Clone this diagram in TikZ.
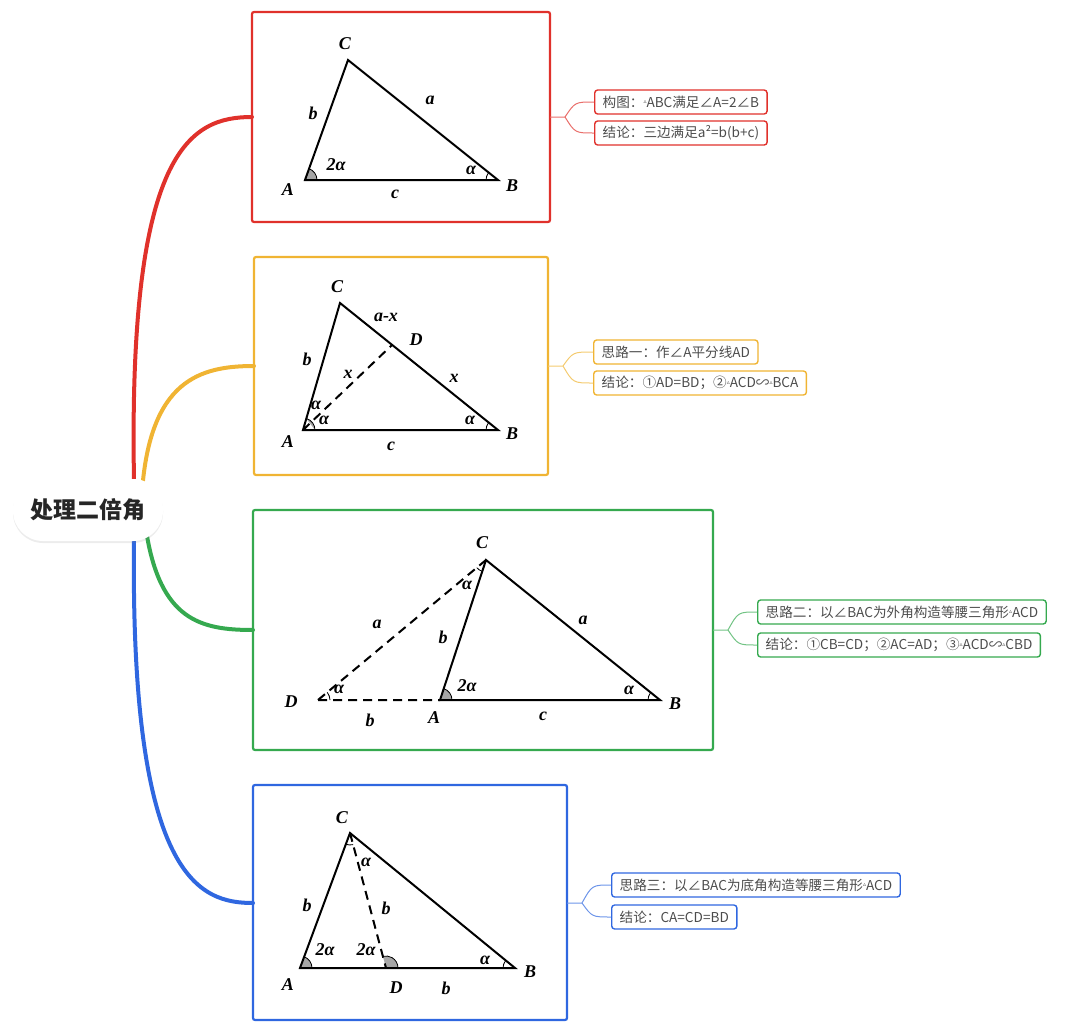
\documentclass[tikz,border=0pt]{standalone}
\usepackage{fontspec}
\setmainfont{Liberation Serif}
\newfontfamily\cjk{Noto Sans CJK SC}
\newfontfamily\sym{DejaVu Sans}
\usetikzlibrary{angles,shadows}
\definecolor{mred}{HTML}{E0312B}
\definecolor{morange}{HTML}{F0B433}
\definecolor{mgreen}{HTML}{35A94F}
\definecolor{mblue}{HTML}{2F67E0}
\newcommand{\tri}{\raisebox{0.45ex}{\sym\fontsize{6}{6}\selectfont ▵}}
\begin{document}
\begin{tikzpicture}[x=1pt,y=-1pt]
  \tikzset{frame/.style = {draw=#1,line width=2.2pt,rounded corners=2pt}}
  \tikzset{pill/.style = {draw=#1,line width=1.4pt,rounded corners=3pt,anchor=west,inner xsep=8pt,minimum height=24pt,font=\cjk\fontsize{13.6}{14}\selectfont,text=black!70}}
  \tikzset{lab/.style = {font=\bfseries\itshape\fontsize{18}{18}\selectfont,inner sep=0pt}}
  \tikzset{branch/.style = {line width=4pt,line cap=round}}
  \tikzset{twig/.style = {line width=1pt,draw=#1!70}}
  \tikzset{side/.style = {line width=2pt}}
  \tikzset{aux/.style = {line width=2pt,dash pattern=on 9pt off 6pt}}
  \tikzset{shade/.style = {draw,fill=gray!70,angle radius=12pt,line width=0.8pt}}
  \tikzset{arcmark/.style = {draw,angle radius=12pt,line width=0.8pt}}
  \useasboundingbox (0,0) rectangle (1080,1028);

  % branches
  \coordinate (r1) at (134,480);
  \coordinate (r2) at (142,492);
  \coordinate (r3) at (146,530);
  \coordinate (r4) at (134,540);
  \draw[branch,mred] (r1) .. controls (128,150) and (190,117) .. (252,117);
  \draw[branch,morange] (r2) .. controls (150,380) and (200,366) .. (254,366);
  \draw[branch,mgreen] (r3) .. controls (160,620) and (200,630) .. (253,630);
  \draw[branch,mblue] (r4) .. controls (130,880) and (200,903) .. (253,903);
  \node[fill=white,rounded corners=30pt,minimum width=150pt,minimum height=62pt,
        drop shadow={opacity=0.15,shadow xshift=0pt,shadow yshift=-2pt},
        font=\cjk\bfseries\fontsize{23}{23}\selectfont,text=black!85] (root) at (88,510) {处理二倍角};

  % frames
  \draw[frame=mred] (252,12) rectangle (550,222);
  \draw[frame=morange] (254,257) rectangle (548,475);
  \draw[frame=mgreen] (253,510) rectangle (713,750);
  \draw[frame=mblue] (253,785) rectangle (567,1020);

  % notes
  \node[pill=mred] (p1) at (594,102) {构图：\tri ABC满足∠A=2∠B};
  \node[pill=mred] (p2) at (594,133) {结论：三边满足a²=b(b+c)};
  \node[pill=morange] (p3) at (593,352) {思路一：作∠A平分线AD};
  \node[pill=morange] (p4) at (593,383) {结论：①AD=BD；②\tri ACD∽\tri BCA};
  \node[pill=mgreen] (p5) at (757,612) {思路二：以∠BAC为外角构造等腰三角形\tri ACD};
  \node[pill=mgreen] (p6) at (757,645) {结论：①CB=CD；②AC=AD；③\tri ACD∽\tri CBD};
  \node[pill=mblue] (p7) at (611,885) {思路三：以∠BAC为底角构造等腰三角形\tri ACD};
  \node[pill=mblue] (p8) at (611,917) {结论：CA=CD=BD};

  \coordinate (k1) at (565,117);
  \coordinate (k2) at (563,366);
  \coordinate (k3) at (728,630);
  \coordinate (k4) at (582,903);
  \draw[twig=mred] (550,117) -- (k1) .. controls (575,102) .. (p1.west) (k1) .. controls (575,133) .. (p2.west);
  \draw[twig=morange] (548,366) -- (k2) .. controls (573,352) .. (p3.west) (k2) .. controls (573,383) .. (p4.west);
  \draw[twig=mgreen] (713,630) -- (k3) .. controls (738,612) .. (p5.west) (k3) .. controls (738,645) .. (p6.west);
  \draw[twig=mblue] (567,903) -- (k4) .. controls (592,885) .. (p7.west) (k4) .. controls (592,917) .. (p8.west);

  % figure 1
  \coordinate (A1) at (305,180); \coordinate (B1) at (498,180); \coordinate (C1) at (348,60);
  \pic[shade] {angle=B1--A1--C1};
  \pic[arcmark] {angle=C1--B1--A1};
  \draw[side] (A1) -- (B1) -- (C1) -- cycle;
  \node[lab] at (345,44) {C}; \node[lab] at (288,190) {A}; \node[lab] at (512,186) {B};
  \node[lab] at (430,100) {a}; \node[lab] at (313,113) {b}; \node[lab] at (395,194) {c};
  \node[lab] at (336,165) {2α}; \node[lab] at (471,170) {α};

  % figure 2
  \coordinate (A2) at (303,430); \coordinate (B2) at (498,430); \coordinate (C2) at (340,303); \coordinate (D2) at (392,345);
  \pic[arcmark] {angle=B2--A2--C2};
  \pic[arcmark] {angle=C2--B2--A2};
  \draw[side] (A2) -- (B2) -- (C2) -- cycle;
  \draw[aux] (A2) -- (D2);
  \node[lab] at (337,287) {C}; \node[lab] at (386,317) {a-x}; \node[lab] at (416,340) {D};
  \node[lab] at (307,359) {b}; \node[lab] at (348,374) {x}; \node[lab] at (454,378) {x};
  \node[lab] at (316,405) {α}; \node[lab] at (324,420) {α}; \node[lab] at (470,420) {α};
  \node[lab] at (288,442) {A}; \node[lab] at (391,446) {c}; \node[lab] at (512,434) {B};

  % figure 3
  \coordinate (D3) at (318,700); \coordinate (A3) at (440,700); \coordinate (B3) at (660,700); \coordinate (C3) at (486,560);
  \pic[shade] {angle=B3--A3--C3};
  \pic[arcmark] {angle=C3--B3--A3};
  \pic[arcmark] {angle=A3--D3--C3};
  \pic[arcmark] {angle=D3--C3--A3};
  \draw[side] (A3) -- (B3) -- (C3) -- cycle;
  \draw[aux] (D3) -- (A3) (D3) -- (C3);
  \node[lab] at (482,543) {C}; \node[lab] at (377,624) {a}; \node[lab] at (583,620) {a};
  \node[lab] at (443,637) {b}; \node[lab] at (467,585) {α}; \node[lab] at (339,689) {α};
  \node[lab] at (467,686) {2α}; \node[lab] at (629,690) {α};
  \node[lab] at (291,702) {D}; \node[lab] at (370,720) {b}; \node[lab] at (434,718) {A};
  \node[lab] at (543,716) {c}; \node[lab] at (675,704) {B};

  % figure 4
  \coordinate (A4) at (300,968); \coordinate (B4) at (515,968); \coordinate (C4) at (350,833); \coordinate (D4) at (386,968);
  \pic[shade] {angle=B4--A4--C4};
  \pic[shade] {angle=B4--D4--C4};
  \pic[arcmark] {angle=C4--B4--A4};
  \pic[arcmark] {angle=A4--C4--D4};
  \draw[side] (A4) -- (B4) -- (C4) -- cycle;
  \draw[aux] (C4) -- (D4);
  \node[lab] at (342,818) {C}; \node[lab] at (366,862) {α}; \node[lab] at (386,908) {b};
  \node[lab] at (307,905) {b}; \node[lab] at (325,950) {2α}; \node[lab] at (366,950) {2α};
  \node[lab] at (485,960) {α}; \node[lab] at (288,985) {A}; \node[lab] at (396,988) {D};
  \node[lab] at (446,988) {b}; \node[lab] at (530,972) {B};
\end{tikzpicture}
\end{document}
